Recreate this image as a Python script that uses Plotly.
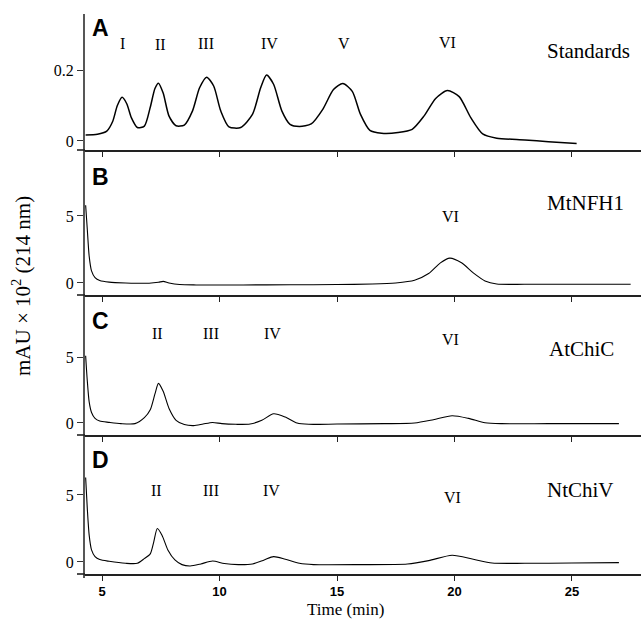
import plotly.graph_objects as go

# ---------------- data (time in min, absorbance) ----------------
t_A = [4.3, 4.8, 5.2, 5.45, 5.65, 5.85, 6.05, 6.25, 6.5, 6.8, 7.05, 7.25, 7.4, 7.6, 7.85, 8.15, 8.5, 8.85, 9.15, 9.45, 9.75, 10.05, 10.4,
       10.9, 11.4, 11.75, 12.0, 12.3, 12.65, 13.0, 13.4, 13.9, 14.4, 14.85, 15.25, 15.65, 16.0, 16.4, 16.9, 17.6, 18.2, 18.7,
       19.2, 19.7, 20.2, 20.7, 21.2, 21.8, 23.0, 24.0, 25.2]
y_A = [0.017, 0.019, 0.028, 0.055, 0.10, 0.123, 0.105, 0.065, 0.038, 0.042, 0.095, 0.148, 0.163, 0.135, 0.07, 0.043, 0.045, 0.085, 0.15, 0.18, 0.155, 0.085, 0.04,
       0.038, 0.075, 0.15, 0.186, 0.16, 0.085, 0.047, 0.041, 0.048, 0.09, 0.145, 0.162, 0.14, 0.075, 0.03, 0.022, 0.024, 0.033, 0.07,
       0.12, 0.142, 0.125, 0.065, 0.02, 0.008, 0.003, -0.002, -0.007]

t_B = [4.3, 4.37, 4.45, 4.55, 4.7, 4.9, 5.3, 6.0, 7.0, 7.4, 7.6, 7.85, 8.3, 9.0, 11.0, 13.0, 15.0, 16.5, 17.5, 18.3, 18.9, 19.4, 19.8,
       20.3, 20.8, 21.3, 21.8, 23.0, 25.0, 27.5]
y_B = [5.8, 4.0, 2.0, 0.9, 0.4, 0.18, 0.06, 0.0, -0.02, 0.05, 0.12, 0.0, -0.12, -0.15, -0.15, -0.14, -0.12, -0.08, 0.0, 0.2, 0.7, 1.5, 1.85,
       1.5, 0.75, 0.15, -0.08, -0.1, -0.1, -0.1]

t_C = [4.3, 4.37, 4.45, 4.55, 4.7, 4.9, 5.3, 5.8, 6.4, 6.8, 7.05, 7.25, 7.4, 7.6, 7.85, 8.15, 8.5, 8.9, 9.3, 9.7, 10.1, 10.7, 11.3,
       11.8, 12.3, 12.8, 13.3, 13.8, 15.0, 17.0, 18.3, 19.1, 19.9, 20.6, 21.3, 22.0, 24.0, 27.0]
y_C = [5.1, 3.2, 1.6, 0.8, 0.35, 0.15, 0.05, -0.05, -0.05, 0.4, 1.0, 2.2, 3.0, 2.4, 1.1, 0.2, -0.12, -0.2, -0.08, 0.04, -0.05, -0.1, -0.08,
       0.2, 0.7, 0.45, 0.0, -0.1, -0.08, -0.05, 0.0, 0.25, 0.55, 0.35, 0.02, -0.05, -0.05, -0.05]

t_D = [4.3, 4.37, 4.45, 4.55, 4.7, 4.9, 5.3, 6.0, 6.5, 6.8, 7.05, 7.2, 7.35, 7.55, 7.8, 8.1, 8.4, 8.75, 9.2, 9.7, 10.2, 10.8, 11.4,
       11.9, 12.3, 12.8, 13.4, 14.0, 16.0, 18.0, 18.9, 19.9, 20.8, 21.6, 23.0, 25.0, 27.0]
y_D = [6.3, 4.0, 2.0, 0.9, 0.4, 0.18, 0.05, -0.1, -0.1, 0.25, 0.6, 1.5, 2.5, 2.0, 0.9, 0.15, -0.2, -0.3, -0.15, 0.07, -0.12, -0.2, -0.15,
       0.15, 0.4, 0.2, -0.1, -0.2, -0.2, -0.15, 0.1, 0.5, 0.2, -0.08, -0.1, -0.08, -0.05]

x_ticks = [5, 10, 15, 20, 25]
panel_letters = ["A", "B", "C", "D"]
sample_names = ["Standards", "MtNFH1", "AtChiC", "NtChiV"]
peaks_A = ["I", "II", "III", "IV", "V", "VI"]
peaks_B = ["VI"]
peaks_C = ["II", "III", "IV", "VI"]
peaks_D = ["II", "III", "IV", "VI"]
y_title = "mAU × 10<sup>2</sup> (214 nm)"
x_title = "Time (min)"

# ---------------- figure geometry ----------------
W, H = 641, 622
ML, MR, MT, MB = 84, 0, 14, 48
PW, PH = W - ML - MR, H - MT - MB


def px(x):
    return (x - ML) / PW


def py(y):
    return (H - MB - y) / PH


SERIF = "Liberation Serif, Times New Roman, serif"
SANS = "Liberation Sans, Arial, sans-serif"

fig = go.Figure()
series = [(t_A, y_A, 1.5), (t_B, y_B, 1.1), (t_C, y_C, 1.1), (t_D, y_D, 1.1)]
for i, (tx, ty, lw) in enumerate(series):
    sfx = "" if i == 0 else str(i + 1)
    fig.add_trace(go.Scatter(x=tx, y=ty, mode="lines", xaxis="x" + sfx, yaxis="y" + sfx,
                             line=dict(color="black", width=lw, shape="spline", smoothing=0.7),
                             showlegend=False, hoverinfo="skip"))

# panel pixel extents (top, bottom) and y ranges
panels = [
    (14, 150, [-0.0254, 0.358], [0, 0.2], ["0", "0.2"]),
    (152, 295, [-0.9, 9.77], [0, 5], ["0", "5"]),
    (295, 435, [-0.91, 9.7], [0, 5], ["0", "5"]),
    (435, 574, [-0.9, 9.48], [0, 5], ["0", "5"]),
]

layout = dict(width=W, height=H, margin=dict(l=ML, r=MR, t=MT, b=MB),
              plot_bgcolor="white", paper_bgcolor="white", showlegend=False)
xr = [4.23, 27.94]
for i, (top, bot, yr, tv, tt) in enumerate(panels):
    sfx = "" if i == 0 else str(i + 1)
    last = i == 3
    layout["xaxis" + sfx] = dict(range=xr, domain=[0, 1], anchor="y" + sfx, showgrid=False, zeroline=False,
                                 showline=True, linecolor="#222", linewidth=1.6,
                                 ticks="outside", ticklen=5, tickwidth=1.2, tickcolor="#222",
                                 tickvals=x_ticks, showticklabels=last,
                                 tickfont=dict(family=SANS, size=13, color="black", weight="bold"))
    layout["yaxis" + sfx] = dict(range=yr, domain=[py(bot), py(top)], anchor="x" + sfx, showgrid=False,
                                 zeroline=False, showline=False, ticks="outside", ticklen=6, tickwidth=1.2,
                                 tickcolor="#333", tickvals=tv, ticktext=tt,
                                 tickfont=dict(family=SERIF, size=16, color="black"))
layout["yaxis"]["domain"] = [py(150), 1]
fig.update_layout(**layout)

shapes = []
# continuous left axis line
shapes.append(dict(type="line", xref="paper", yref="paper", x0=0, x1=0, y0=py(578), y1=1,
                   line=dict(color="#444", width=1.8)))
# x-axis stubs extending left of the y axis
for yb in [150, 295, 435, 574]:
    shapes.append(dict(type="line", xref="paper", yref="paper", x0=px(77), x1=px(85), y0=py(yb), y1=py(yb),
                       line=dict(color="#222", width=1.6)))
fig.update_layout(shapes=shapes)

ann = []


def add_text(text, x, y, size, family=SERIF, bold=False, xanchor="center", textangle=0):
    ann.append(dict(text=("<b>%s</b>" % text) if bold else text, x=px(x), y=py(y), xref="paper", yref="paper",
                    showarrow=False, xanchor=xanchor, yanchor="middle", textangle=textangle,
                    font=dict(family=family, size=size, color="black")))


letter_pos = [(90, 28), (90, 177), (90, 321), (90, 460)]
for L, (x, y) in zip(panel_letters, letter_pos):
    add_text(L, x, y, 23, family=SANS, bold=True, xanchor="left")

name_pos = [(588, 51), (585, 203), (581, 349), (580, 490)]
for n, (x, y) in zip(sample_names, name_pos):
    add_text(n, x, y, 21)

pk_pos_A = [(122, 43), (160, 44), (206, 43), (269, 43), (344, 43), (447, 42)]
pk_pos_B = [(450, 216)]
pk_pos_C = [(157, 333), (211, 333), (272, 333), (450, 340)]
pk_pos_D = [(156, 490), (211, 490), (271, 490), (452, 497)]
for labels, poss in [(peaks_A, pk_pos_A), (peaks_B, pk_pos_B), (peaks_C, pk_pos_C), (peaks_D, pk_pos_D)]:
    for s, (x, y) in zip(labels, poss):
        add_text(s, x, y, 16)

add_text(y_title, 21, 286, 21, textangle=-90)
add_text(x_title, 345, 609, 17)
fig.update_layout(annotations=ann)

fig.write_html("out.html", config={"displayModeBar": False},
               post_script="document.body.style.margin='0';document.body.style.overflow='hidden';")
